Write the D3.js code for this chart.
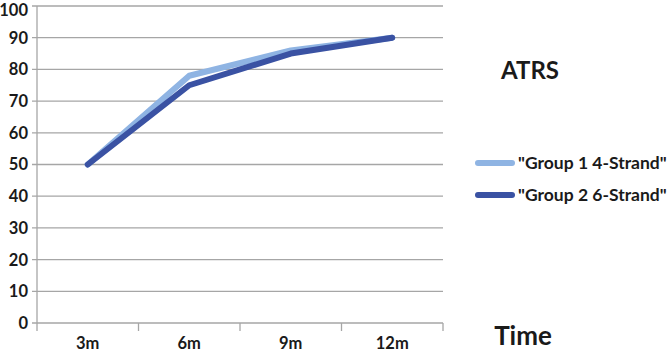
<!DOCTYPE html>
<html lang="en">
  <head>
    <meta charset="UTF-8" />
    <title>ATRS</title>
    <script src="https://d3js.org/d3.v7.min.js"></script>
    <style>
      body { margin: 0; background: #fff; }
      text { font-family: Lato, "Liberation Sans", sans-serif; fill: #1a1a1a; }
      .tick-label { font-size: 16.5px; font-weight: bold; }
    </style>
  </head>
  <body>
    <svg id="chart" width="671" height="354"></svg>

    <script>
      const categories = ["3m", "6m", "9m", "12m"];
      const group1 = [50, 78, 86, 90];
      const group2 = [50, 75, 85, 90];
      const yTicks = [0, 10, 20, 30, 40, 50, 60, 70, 80, 90, 100];
      const seriesNames = ['"Group 1 4-Strand"', '"Group 2 6-Strand"'];
      const colors = ["#8fb4e3", "#3a52a3"];

      const svg = d3.select("#chart");
      const margin = { top: 6, left: 37, right: 228, bottom: 31 };
      const width = 671 - margin.left - margin.right;
      const height = 354 - margin.top - margin.bottom;
      const g = svg.append("g").attr("transform", `translate(${margin.left},${margin.top})`);

      const x = d3.scaleBand().domain(categories).range([0, width]);
      const y = d3.scaleLinear().domain([0, 100]).range([height, 0]);

      // gridlines
      g.selectAll(".grid")
        .data(yTicks)
        .enter()
        .append("line")
        .attr("x1", -5)
        .attr("x2", width)
        .attr("y1", (d) => y(d))
        .attr("y2", (d) => y(d))
        .attr("stroke", "#a6a6a6")
        .attr("stroke-width", 1.3);

      // y axis line
      g.append("line")
        .attr("x1", 0).attr("x2", 0)
        .attr("y1", 0).attr("y2", height)
        .attr("stroke", "#a6a6a6").attr("stroke-width", 1.3);

      // y labels (top one nudged down so it stays inside the frame)
      g.selectAll(".ylab")
        .data(yTicks)
        .enter()
        .append("text")
        .attr("class", "tick-label")
        .attr("x", -9)
        .attr("y", (d) => Math.max(y(d), 4))
        .attr("dy", "0.36em")
        .attr("text-anchor", "end")
        .text((d) => d);

      // x category ticks
      const xTickPos = categories.map((c) => x(c)).concat([width]);
      g.selectAll(".xtick")
        .data(xTickPos)
        .enter()
        .append("line")
        .attr("x1", (d) => d).attr("x2", (d) => d)
        .attr("y1", height).attr("y2", height + 8)
        .attr("stroke", "#a6a6a6").attr("stroke-width", 1.3);

      g.selectAll(".xlab")
        .data(categories)
        .enter()
        .append("text")
        .attr("class", "tick-label")
        .attr("x", (d) => x(d) + x.bandwidth() / 2)
        .attr("y", height + 26)
        .attr("text-anchor", "middle")
        .text((d) => d);

      // lines
      const line = d3.line()
        .x((d, i) => x(categories[i]) + x.bandwidth() / 2)
        .y((d) => y(d));

      [group1, group2].forEach((s, i) => {
        g.append("path")
          .datum(s)
          .attr("fill", "none")
          .attr("stroke", colors[i])
          .attr("stroke-width", 6)
          .attr("stroke-linecap", "round")
          .attr("stroke-linejoin", "round")
          .attr("d", line);
      });

      // side labels
      svg.append("text")
        .attr("x", 530).attr("y", 79)
        .attr("text-anchor", "middle")
        .style("font-size", "24px").style("font-weight", "bold")
        .text("ATRS");

      svg.append("text")
        .attr("x", 523).attr("y", 345)
        .attr("text-anchor", "middle")
        .style("font-size", "26px").style("font-weight", "bold")
        .text("Time");

      // legend
      const legend = svg.append("g").attr("transform", "translate(478,163)");
      seriesNames.forEach((name, i) => {
        const row = legend.append("g").attr("transform", `translate(0,${i * 32})`);
        row.append("line")
          .attr("x1", 0).attr("x2", 34)
          .attr("stroke", colors[i]).attr("stroke-width", 6)
          .attr("stroke-linecap", "round");
        row.append("text")
          .attr("x", 40).attr("dy", "0.36em")
          .style("font-size", "17.5px").style("font-weight", "bold")
          .text(name);
      });
    </script>
  </body>
</html>
